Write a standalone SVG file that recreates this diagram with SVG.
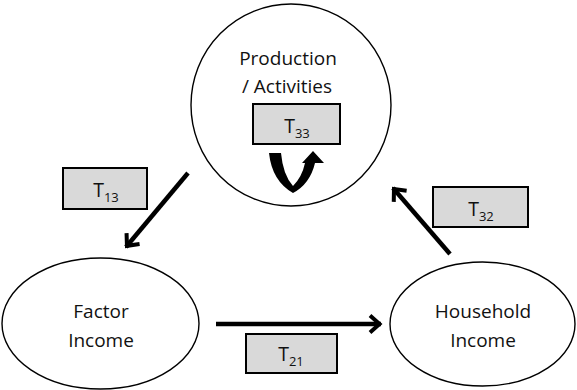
<svg xmlns="http://www.w3.org/2000/svg" width="577" height="390" viewBox="0 0 577 390">
<defs>
<style>
.node{fill:#fff;stroke:#000;stroke-width:1.4}
.lbl{font-family:"Open Sans","Liberation Sans",sans-serif;font-size:19px;fill:#111;text-anchor:middle}
.box{fill:#d9d9d9;stroke:#000;stroke-width:2}
.t{font-family:"Open Sans","Liberation Sans",sans-serif;font-size:19.5px;fill:#111;text-anchor:middle}
.sub{font-size:13px}
.arr{stroke:#000;stroke-width:4.5;fill:none}
</style>
<marker id="head" viewBox="-14 -11 16 22" markerWidth="16" markerHeight="22" refX="0" refY="0" orient="auto" markerUnits="userSpaceOnUse">
<path d="M-11,-8.5 L-1.5,0 L-11,8.5" fill="none" stroke="#000" stroke-width="4" stroke-linejoin="miter"/>
</marker>
</defs>
<g id="production">
<ellipse class="node" cx="291" cy="105" rx="100" ry="101"/>
<text class="lbl" x="288" y="65">Production</text>
<text class="lbl" x="287" y="93">/ Activities</text>
<rect class="box" x="253" y="104" width="87" height="40"/>
<text class="t" x="297" y="133">T<tspan class="sub" dy="5">33</tspan></text>
<path d="M269,153 L281,153 Q283,175 293,186 Q302,177 305,163 L302,163 L313,151 L324,163 L315,163 Q310,184 293,193 Q272,181 269,153 Z" fill="#000"/>
</g>
<g id="factor">
<ellipse class="node" cx="100.5" cy="323.5" rx="98.5" ry="65.5"/>
<text class="lbl" x="101" y="318">Factor</text>
<text class="lbl" x="101" y="347">Income</text>
</g>
<g id="household">
<ellipse class="node" cx="482.5" cy="324" rx="92.5" ry="62"/>
<text class="lbl" x="483" y="318">Household</text>
<text class="lbl" x="483" y="347">Income</text>
</g>
<g id="connectors">
<line class="arr" x1="188" y1="173" x2="126" y2="247" marker-end="url(#head)"/>
<line class="arr" x1="450" y1="254" x2="393" y2="188" marker-end="url(#head)"/>
<line class="arr" x1="216" y1="324" x2="381" y2="324" marker-end="url(#head)"/>
</g>
<g id="label-t13">
<rect class="box" x="63" y="168" width="84" height="41"/>
<text class="t" x="106" y="197">T<tspan class="sub" dy="5">13</tspan></text>
</g>
<g id="label-t32">
<rect class="box" x="433" y="187" width="95" height="40"/>
<text class="t" x="481" y="216">T<tspan class="sub" dy="5">32</tspan></text>
</g>
<g id="label-t21">
<rect class="box" x="246" y="334" width="91" height="39"/>
<text class="t" x="291" y="361">T<tspan class="sub" dy="5">21</tspan></text>
</g>
</svg>
